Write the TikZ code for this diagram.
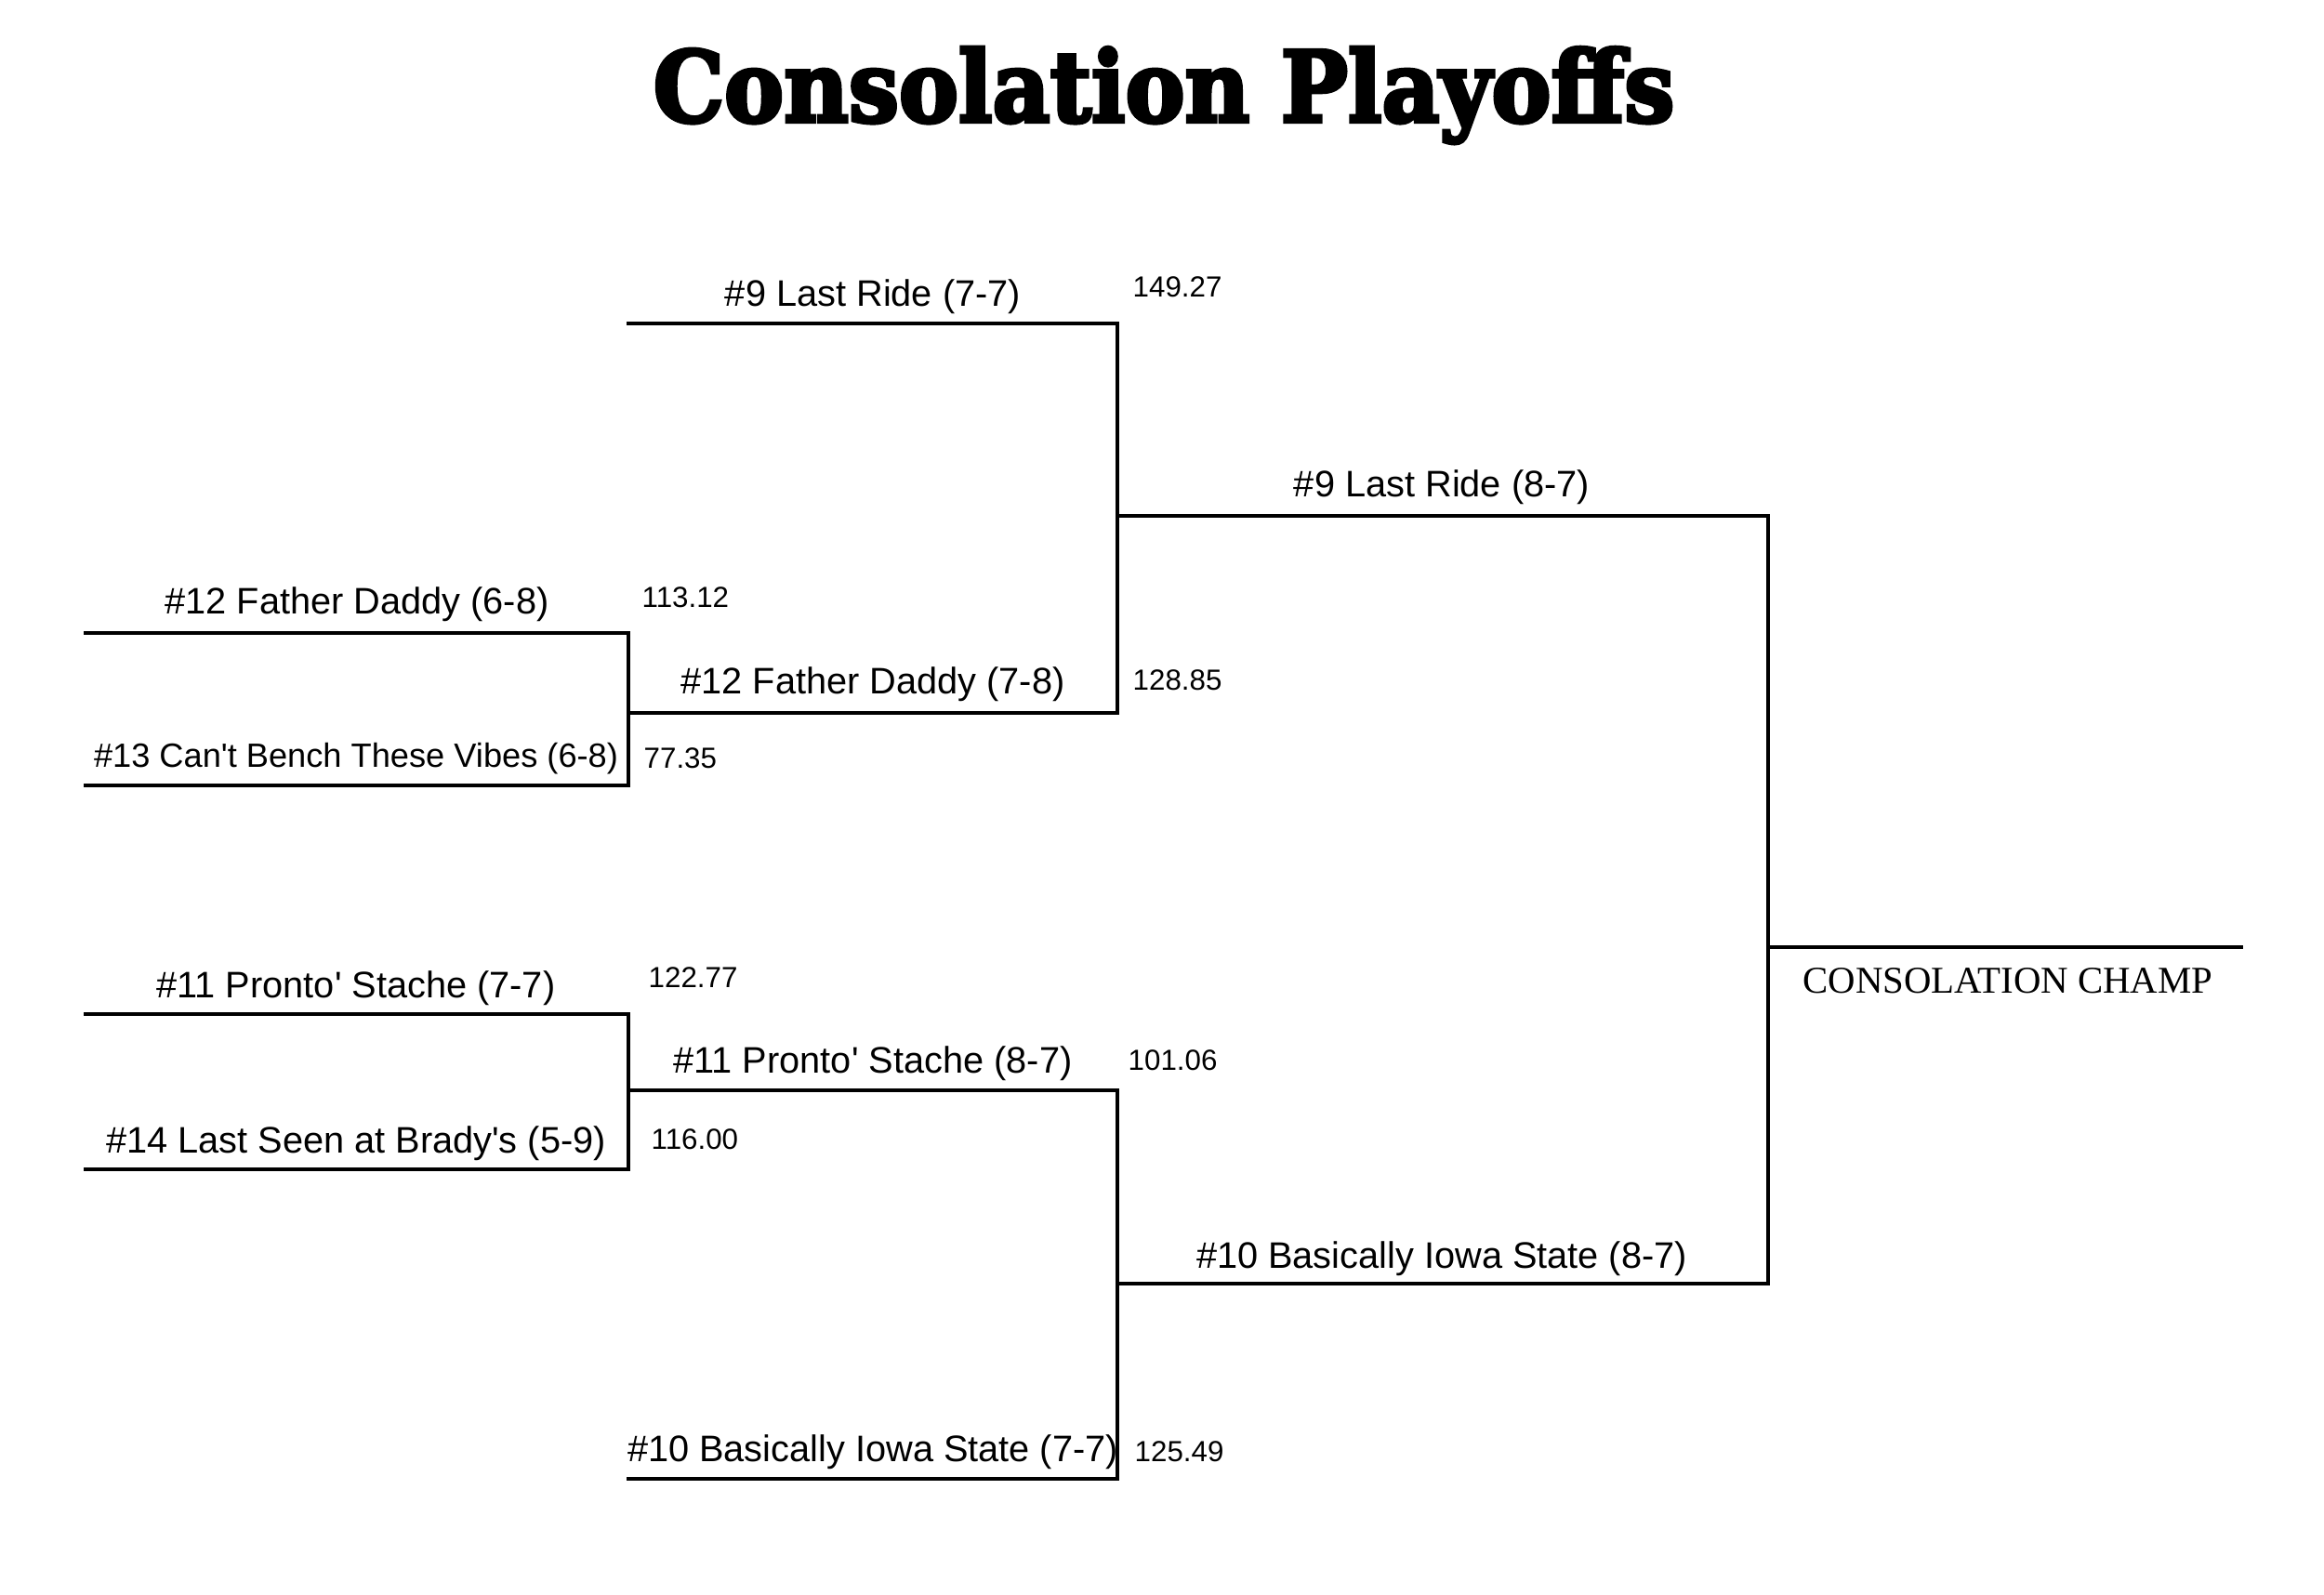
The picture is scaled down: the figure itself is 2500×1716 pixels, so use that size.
\documentclass[tikz,border=0pt]{standalone}
\usepackage{fontspec}
\setmainfont{Liberation Sans}
\newfontfamily\champfont{Liberation Serif}
\newfontfamily\titlefont[FakeBold=4]{DejaVu Serif Bold}
\tikzset{
  bracket/.style={line width=0.9pt, line cap=rect},
  team/.style={anchor=base, inner sep=0pt, font=\fontsize{11.3}{13}\selectfont},
  score/.style={anchor=base west, inner sep=0pt, font=\fontsize{8.9}{10}\selectfont},
}

\begin{document}
\begin{tikzpicture}[x=0.01cm,y=-0.01cm]
    % Variables for the bracket columns
    \def\colA{92}
    \def\colB{676}
    \def\colC{1202}
    \def\colD{1902}
    \def\colE{2411}

    \useasboundingbox (0,0) rectangle (2500,1716);

    % Title
    \node[anchor=base, inner sep=0pt, xscale=0.91, font=\titlefont\fontsize{30}{36}\selectfont] (title) at (1252,131) {Consolation Playoffs};

    % Slot end points, round 1
    \coordinate (r1aL) at (\colA,681);  \coordinate (r1aR) at (\colB,681);
    \coordinate (r1bL) at (\colA,845);  \coordinate (r1bR) at (\colB,845);
    \coordinate (r1cL) at (\colA,1091); \coordinate (r1cR) at (\colB,1091);
    \coordinate (r1dL) at (\colA,1258); \coordinate (r1dR) at (\colB,1258);

    % Slot end points, round 2
    \coordinate (r2aL) at (\colB,348);  \coordinate (r2aR) at (\colC,348);
    \coordinate (r2bL) at (\colB,767);  \coordinate (r2bR) at (\colC,767);
    \coordinate (r2cL) at (\colB,1173); \coordinate (r2cR) at (\colC,1173);
    \coordinate (r2dL) at (\colB,1591); \coordinate (r2dR) at (\colC,1591);

    % Slot end points, round 3 and champ
    \coordinate (r3aL) at (\colC,555);  \coordinate (r3aR) at (\colD,555);
    \coordinate (r3bL) at (\colC,1381); \coordinate (r3bR) at (\colD,1381);
    \coordinate (champL) at (\colD,1019); \coordinate (champR) at (\colE,1019);

    % Draw the brackets
    \draw[bracket] (r1aL) -- (r1aR) -- (r1bR) -- (r1bL);
    \draw[bracket] (r1cL) -- (r1cR) -- (r1dR) -- (r1dL);
    \draw[bracket] (r2aL) -- (r2aR) -- (r2bR) -- (r2bL);
    \draw[bracket] (r2cL) -- (r2cR) -- (r2dR) -- (r2dL);
    \draw[bracket] (r3aL) -- (r3aR) -- (r3bR) -- (r3bL);
    \draw[bracket] (champL) -- (champR);

    % Team labels
    \node[team] (t9a) at (939,330) {\#9 Last Ride (7-7)};
    \node[team] (t9b) at (1551,535) {\#9 Last Ride (8-7)};
    \node[team] (t12a) at (384,661) {\#12 Father Daddy (6-8)};
    \node[team] (t12b) at (939,747) {\#12 Father Daddy (7-8)};
    \node[team, font=\fontsize{10.3}{12}\selectfont] (t13) at (383,826) {\#13 Can\textquotesingle t Bench These Vibes (6-8)};
    \node[team] (t11a) at (383,1073) {\#11 Pronto\textquotesingle{} Stache (7-7)};
    \node[team] (t11b) at (939,1154) {\#11 Pronto\textquotesingle{} Stache (8-7)};
    \node[team] (t14) at (383,1240) {\#14 Last Seen at Brady\textquotesingle s (5-9)};
    \node[team] (t10b) at (1551,1364) {\#10 Basically Iowa State (8-7)};
    \node[team] (t10a) at (939,1572) {\#10 Basically Iowa State (7-7)};

    % Scores
    \node[score] (p9) at (1218,320) {149.27};
    \node[score] (p12a) at (690,654) {113.12};
    \node[score] (p12b) at (1218,743) {128.85};
    \node[score] (p13) at (692,827) {77.35};
    \node[score] (p11a) at (697,1062) {122.77};
    \node[score] (p11b) at (1213,1151) {101.06};
    \node[score] (p14) at (700,1236) {116.00};
    \node[score] (p10) at (1220,1572) {125.49};

    % Champ label
    \node[anchor=base, inner sep=0pt, font=\champfont\fontsize{11.6}{14}\selectfont] (champ) at (2160,1068) {CONSOLATION CHAMP};

\end{tikzpicture}
\end{document}
